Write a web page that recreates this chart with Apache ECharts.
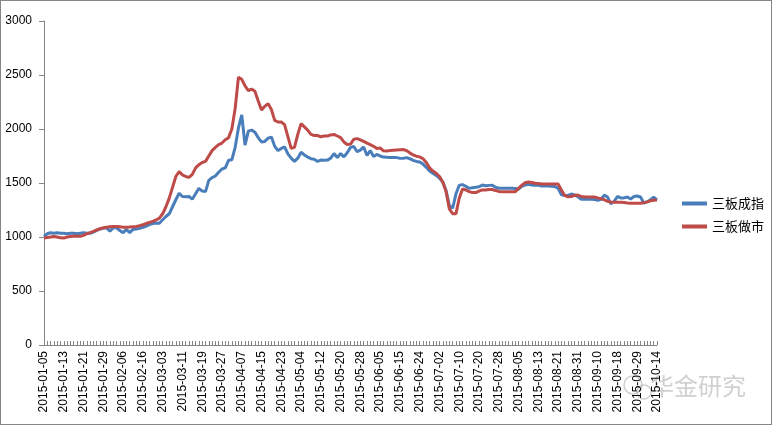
<!DOCTYPE html>
<html><head><meta charset="utf-8">
<script src="https://cdn.jsdelivr.net/npm/echarts@6/dist/echarts.min.js"></script>
<style>html,body{margin:0;padding:0;background:#fff}#c{width:772px;height:425px;box-sizing:border-box;border:1px solid #868686}</style>
</head><body><div id="c"></div>
<script>
const monthDays = [
  ['01', [5,6,7,8,9,12,13,14,15,16,19,20,21,22,23,26,27,28,29,30]],
  ['02', [2,3,4,5,6,9,10,11,12,13,16,17,25,26,27]],
  ['03', [2,3,4,5,6,9,10,11,12,13,16,17,18,19,20,23,24,25,26,27,30,31]],
  ['04', [1,2,3,7,8,9,10,13,14,15,16,17,20,21,22,23,24,27,28,29,30]],
  ['05', [4,5,6,7,8,11,12,13,14,15,18,19,20,21,22,25,26,27,28,29]],
  ['06', [1,2,3,4,5,8,9,10,11,12,15,16,17,18,19,23,24,25,26,29,30]],
  ['07', [1,2,3,6,7,8,9,10,13,14,15,16,17,20,21,22,23,24,27,28,29,30,31]],
  ['08', [3,4,5,6,7,10,11,12,13,14,17,18,19,20,21,24,25,26,27,28,31]],
  ['09', [1,2,7,8,9,10,11,14,15,16,17,18,21,22,23,24,28,29,30]],
  ['10', [8,9,12,13,14]]
];
const categories = [];
monthDays.forEach(([m, days]) => days.forEach(d => categories.push('2015-' + m + '-' + (d < 10 ? '0' + d : '' + d))));

const seriesNames = ['三板成指', '三板做市'];
const sanbanChengzhi = [
  1005,1030,1040,1035,1040,1035,1035,1030,1035,1035,
  1030,1035,1040,1035,1035,1045,1060,1075,1080,1085,
  1055,1085,1085,1060,1040,1070,1040,1070,1075,1080,
  1090,1100,1115,1125,1130,1128,1160,1190,1215,1280,
  1345,1405,1375,1372,1375,1350,1400,1450,1425,1420,
  1525,1550,1565,1600,1630,1640,1710,1715,1830,2010,
  2130,1850,1980,1990,1970,1920,1880,1885,1915,1925,
  1840,1800,1820,1835,1770,1730,1700,1730,1785,1760,
  1740,1725,1720,1700,1712,1710,1712,1730,1773,1735,
  1773,1742,1780,1830,1838,1790,1805,1834,1755,1800,
  1745,1765,1750,1740,1738,1736,1736,1735,1730,1728,
  1735,1725,1710,1700,1695,1675,1645,1610,1590,1570,
  1545,1510,1430,1290,1268,1400,1480,1485,1470,1450,
  1457,1460,1465,1482,1475,1478,1480,1460,1452,1451,
  1451,1451,1451,1450,1442,1470,1482,1488,1482,1480,
  1478,1472,1472,1472,1470,1468,1450,1390,1385,1385,
  1398,1390,1372,1350,1350,1350,1350,1348,1340,1350,
  1388,1370,1307,1330,1375,1362,1362,1370,1352,1375,
  1380,1370,1315,1325,1345,1368,1343
];
const sanbanZuoshi = [
  990,995,1000,1005,1000,992,990,1000,1005,1010,
  1008,1006,1015,1030,1040,1052,1065,1077,1085,1090,
  1095,1098,1098,1095,1090,1090,1092,1095,1098,1105,
  1113,1125,1135,1145,1158,1175,1215,1280,1360,1460,
  1560,1605,1575,1560,1552,1580,1640,1670,1690,1700,
  1750,1800,1830,1855,1870,1900,1920,2000,2190,2480,
  2460,2400,2356,2370,2350,2260,2175,2210,2235,2180,
  2080,2065,2065,2040,1930,1820,1830,1950,2050,2020,
  1990,1950,1940,1940,1928,1935,1935,1945,1950,1935,
  1920,1880,1856,1860,1905,1911,1900,1885,1870,1855,
  1840,1820,1825,1798,1797,1800,1804,1806,1808,1810,
  1800,1779,1760,1748,1742,1725,1690,1640,1610,1590,
  1560,1510,1420,1260,1215,1215,1360,1445,1435,1420,
  1411,1411,1425,1436,1436,1440,1440,1430,1422,1420,
  1420,1420,1420,1420,1450,1480,1503,1510,1505,1497,
  1495,1491,1491,1491,1491,1491,1491,1436,1385,1372,
  1375,1385,1388,1376,1372,1370,1370,1370,1362,1355,
  1345,1330,1325,1322,1322,1322,1320,1315,1313,1313,
  1313,1313,1318,1325,1335,1340,1343
];
const colors = ['#4A7EBB', '#BE4B48'];
const watermark = '华金研究';

const chart = echarts.init(document.getElementById('c'), null, {renderer: 'canvas'});
chart.setOption({
  animation: false,
  textStyle: {fontFamily: 'Liberation Sans, Arial, sans-serif'},
  grid: {left: 43, right: 114, top: 20, bottom: 79, containLabel: false},
  legend: {
    orient: 'vertical', left: 676, top: 191, itemWidth: 25, itemHeight: 4, itemGap: 10,
    icon: 'rect',
    textStyle: {fontSize: 13, color: '#000', fontFamily: 'Noto Sans CJK SC'},
    data: seriesNames
  },
  xAxis: {
    type: 'category', data: categories, boundaryGap: false,
    axisLine: {lineStyle: {color: '#868686', width: 1}},
    axisTick: {show: true, interval: 0, inside: true, length: 4, lineStyle: {color: '#868686'}},
    axisLabel: {interval: 5, rotate: 90, fontSize: 12, color: '#000', margin: 6,
      fontFamily: 'Liberation Sans, Arial, sans-serif'},
    splitLine: {show: false}
  },
  yAxis: {
    type: 'value', min: 0, max: 3000, interval: 500,
    axisLine: {show: true, lineStyle: {color: '#868686', width: 1}},
    axisTick: {show: true, length: 5, lineStyle: {color: '#868686'}},
    axisLabel: {fontSize: 12, color: '#000', margin: 12, formatter: v => String(v)},
    splitLine: {show: false}
  },
  series: [
    {name: seriesNames[0], type: 'line', data: sanbanChengzhi, showSymbol: false, symbol: 'none',
     lineStyle: {color: colors[0], width: 3}, itemStyle: {color: colors[0]}},
    {name: seriesNames[1], type: 'line', data: sanbanZuoshi, showSymbol: false, symbol: 'none',
     lineStyle: {color: colors[1], width: 3}, itemStyle: {color: colors[1]}}
  ],
  graphic: [
    {type: 'text', left: 649, top: 373, silent: true,
     style: {text: watermark, fontSize: 24, fill: 'rgba(170,170,170,0.55)', fontFamily: 'Noto Sans CJK SC'}},
    {type: 'circle', shape: {cx: 632, cy: 384, r: 9}, silent: true,
     style: {fill: 'none', stroke: 'rgba(170,170,170,0.55)', lineWidth: 1.5}},
    {type: 'circle', shape: {cx: 643, cy: 391, r: 7}, silent: true,
     style: {fill: 'none', stroke: 'rgba(170,170,170,0.55)', lineWidth: 1.5}}
  ]
});
</script></body></html>
